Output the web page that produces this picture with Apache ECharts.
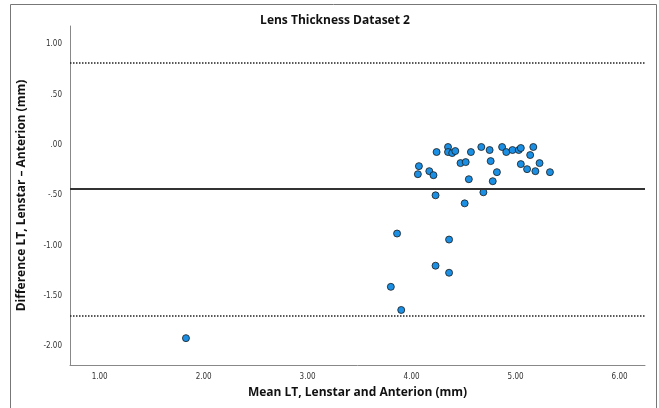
<!DOCTYPE html>
<html>
<head>
<meta charset="utf-8">
<script src="https://cdn.jsdelivr.net/npm/echarts@6/dist/echarts.min.js"></script>
<style>html,body{margin:0;padding:0;background:#fff;}#c{width:659px;height:408px;}</style>
</head>
<body>
<div id="c"></div>
<script>
var meanX = [4.07,4.06,4.17,4.21,4.24,4.35,4.35,4.39,4.42,4.47,4.52,4.57,4.55,4.23,4.67,4.75,4.76,4.82,4.78,4.69,4.87,4.91,4.97,5.03,5.05,5.05,5.14,5.17,5.11,5.19,5.23,5.33,4.51,3.86,4.36,4.23,4.36,3.80,3.90,1.83];
var diffY = [-0.21,-0.29,-0.26,-0.30,-0.07,-0.02,-0.07,-0.08,-0.06,-0.18,-0.17,-0.07,-0.34,-0.50,-0.02,-0.05,-0.16,-0.27,-0.36,-0.47,-0.02,-0.07,-0.05,-0.05,-0.03,-0.19,-0.10,-0.02,-0.24,-0.26,-0.18,-0.27,-0.58,-0.88,-0.94,-1.20,-1.27,-1.41,-1.64,-1.92];
var meanDiff = -0.435;
var upperLoA = 0.825;
var lowerLoA = -1.695;
var xTicks = [1,2,3,4,5,6];
var yTicks = [1,0.5,0,-0.5,-1,-1.5,-2];

var pts = meanX.map(function(x,i){return [x, diffY[i]];});
function fmt(v){
  var s = Number(v).toFixed(2);
  return s.replace(/^0\./,'.').replace(/^-0\./,'-.');
}
var chart = echarts.init(document.getElementById('c'), null, {renderer:'canvas'});
chart.setOption({
  backgroundColor:'#fff',
  animation:false,
  title:{text:'Lens Thickness Dataset 2', left:330, top:10, textAlign:'center',
    textStyle:{fontFamily:'Open Sans', fontSize:12, fontWeight:'bold', color:'#111'}},
  grid:{left:70, right:14, top:26, bottom:43},
  graphic:[{type:'rect', shape:{x:10.5,y:4.5,width:646,height:420}, style:{fill:'none', stroke:'#777', lineWidth:1}, silent:true, z:-1}],
  xAxis:{type:'value', min:0.715, max:6.244,
    name:'Mean LT, Lenstar and Anterion (mm)', nameLocation:'middle', nameGap:22,
    nameTextStyle:{fontFamily:'Open Sans', fontSize:12, fontWeight:'bold', color:'#111'},
    axisLine:{show:true, onZero:false, lineStyle:{color:'#888', width:1}},
    axisTick:{show:false}, splitLine:{show:false},
    axisLabel:{customValues:xTicks, formatter:function(v){return fmt(v);}, fontFamily:'DejaVu Sans Condensed', fontSize:8, color:'#333', margin:8}
  },
  yAxis:{type:'value', min:-2.187, max:1.183,
    name:'Difference LT, Lenstar \u2013 Anterion (mm)', nameLocation:'middle', nameGap:42, nameRotate:90,
    nameTextStyle:{fontFamily:'Open Sans', fontSize:12, fontWeight:'bold', color:'#111'},
    axisLine:{show:true, onZero:false, lineStyle:{color:'#888', width:1}},
    axisTick:{show:false}, splitLine:{show:false},
    axisLabel:{customValues:yTicks, formatter:function(v){return fmt(v);}, fontFamily:'DejaVu Sans Condensed', fontSize:8, color:'#333', margin:8}
  },
  series:[{
    type:'scatter', data:pts, symbol:'circle', symbolSize:7,
    itemStyle:{color:'#1a8fe3', borderColor:'#1a1a1a', borderWidth:0.8, opacity:1},
    markLine:{silent:true, symbol:['none','none'], label:{show:false},
      data:[
        {yAxis:upperLoA, lineStyle:{type:'dotted', color:'#222', width:1.5}},
        {yAxis:meanDiff, lineStyle:{type:'solid', color:'#333', width:2}},
        {yAxis:lowerLoA, lineStyle:{type:'dotted', color:'#222', width:1.5}}
      ]}
  }]
});
</script>
</body>
</html>
